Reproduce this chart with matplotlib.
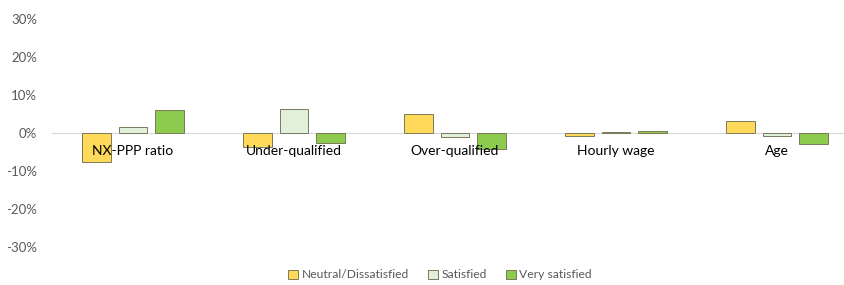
import matplotlib.pyplot as plt
import numpy as np

categories = ["NX-PPP ratio", "Under-qualified", "Over-qualified", "Hourly wage", "Age"]
neutral = [-7.6, -3.6, 5.0, -0.8, 3.2]
satisfied = [1.5, 6.3, -1.1, 0.2, -0.8]
very_satisfied = [6.0, -2.7, -4.3, 0.6, -2.8]
yticks = [-30, -20, -10, 0, 10, 20, 30]

plt.rcParams['font.family'] = ['Lato', 'DejaVu Sans']

fig = plt.figure(figsize=(8.45, 2.85), dpi=100)
ax = fig.add_axes([52.5 / 845, 1 - 247 / 285, 1 - 52.5 / 845, 228 / 285])

x = np.arange(len(categories))
w = 0.18
step = 0.224
edge = "#7a7a5a"
ax.bar(x - step, neutral, w, color="#FFD95A", edgecolor=edge, linewidth=0.7, label="Neutral/Dissatisfied")
ax.bar(x, satisfied, w, color="#E2EFDA", edgecolor=edge, linewidth=0.7, label="Satisfied")
ax.bar(x + step, very_satisfied, w, color="#8CCB4E", edgecolor=edge, linewidth=0.7, label="Very satisfied")

ax.set_xlim(-0.5, (845 - 133) / 161)
ax.set_ylim(-30, 30)
ax.set_yticks(yticks)
ax.set_yticklabels([f"{t}%" for t in yticks], fontsize=9.5, color="#595959")
ax.set_xticks(x)
ax.set_xticklabels(categories, fontsize=8.7, color="#595959")

for s in ["top", "right", "left"]:
    ax.spines[s].set_visible(False)
ax.spines["bottom"].set_position(("data", 0))
ax.spines["bottom"].set_color("#d9d9d9")
ax.spines["bottom"].set_zorder(0)
ax.tick_params(axis="both", length=0)
ax.tick_params(axis="x", pad=8.5)
ax.tick_params(axis="y", pad=11)

fig.legend(loc="center", bbox_to_anchor=(440 / 845, 1 - 275 / 285), ncol=3, frameon=False,
           fontsize=8.7, labelcolor="#595959", handlelength=0.8, handleheight=0.8,
           handletextpad=0.3, columnspacing=1.6)

fig.savefig("out.png", dpi=100)
